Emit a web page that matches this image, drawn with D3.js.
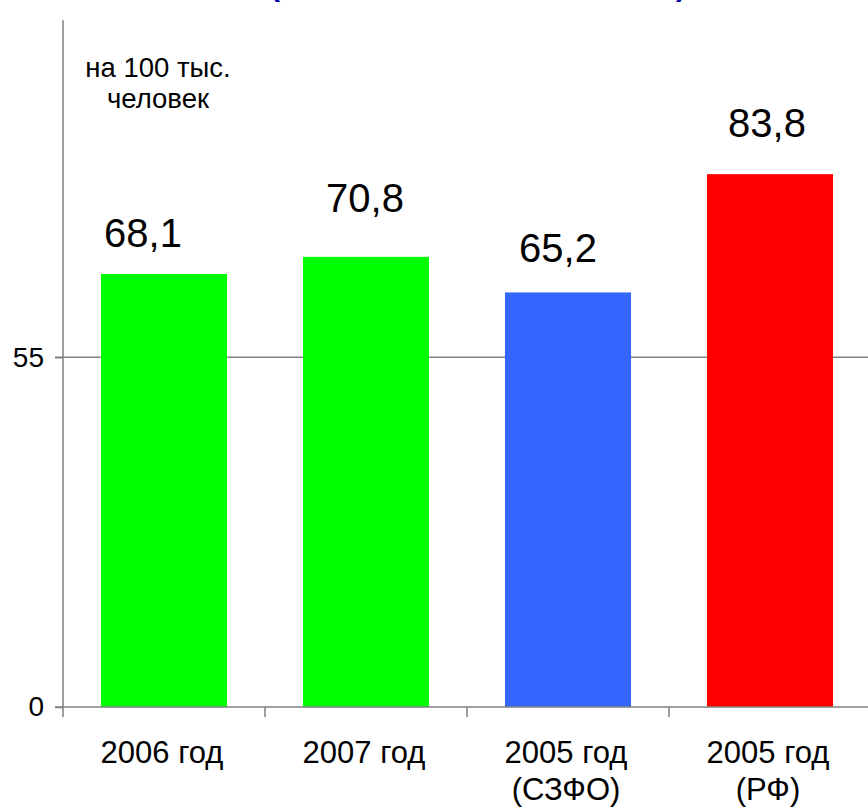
<!DOCTYPE html>
<html><head><meta charset="utf-8">
<script src="https://cdn.jsdelivr.net/npm/d3@7"></script>
<style>
html,body{margin:0;padding:0;background:#fff;}
svg{display:block;font-family:"Liberation Sans",Arial,sans-serif;}
</style></head>
<body>
<svg id="c" width="868" height="811"></svg>
<script>
// Data
const categories = ["2006 год|", "2007 год|", "2005 год|(СЗФО)", "2005 год|(РФ)"];
const values = [68.1, 70.8, 65.2, 83.8];
const valueLabels = ["68,1", "70,8", "65,2", "83,8"];
const yTicks = [0, 55];
const unitLabel = ["на 100 тыс.", "человек"];

// Layout / style (not data)
const barColors = ["#00ff00", "#00ff00", "#3366ff", "#ff0000"];
const labelDx = [-21, -1, -10, -3];
const labelDy = [27, 45, 30, 37];

const svg = d3.select("#c");
const x0 = 63, yZero = 707, yTop = 20.3;
const y = d3.scaleLinear().domain([0, 108]).range([yZero, yTop]);
const x = d3.scaleBand().domain(categories).range([x0, 871]).paddingInner(0.376).paddingOuter(0.188);

const axisColor = "#808080";

// partially visible title parentheses (title itself lies above the picture's top edge)
svg.append("text").attr("x", 270).attr("y", -4).attr("font-size", 30).attr("font-weight", "bold")
  .attr("fill", "#0000b0").text("(");
svg.append("text").attr("x", 676).attr("y", -4).attr("font-size", 30).attr("font-weight", "bold")
  .attr("fill", "#0000b0").text(")");

// gridline at 55
svg.selectAll(".grid").data(yTicks.filter(d => d > 0)).enter().append("line")
  .attr("x1", 55).attr("x2", 868).attr("y1", d => y(d)).attr("y2", d => y(d))
  .attr("stroke", axisColor).attr("stroke-width", 1.5);

// bars
svg.selectAll(".bar").data(values).enter().append("rect")
  .attr("x", (d, i) => x(categories[i]))
  .attr("width", x.bandwidth())
  .attr("y", d => y(d))
  .attr("height", d => y(0) - y(d))
  .attr("fill", (d, i) => barColors[i]);

// y axis
const yAxis = d3.axisLeft(y).tickValues(yTicks).tickSize(8).tickPadding(11).tickFormat(d3.format("d"));
const gy = svg.append("g").attr("transform", `translate(${x0},0)`).call(yAxis);
gy.select(".domain").remove();
gy.selectAll(".tick line").attr("stroke", axisColor).attr("stroke-width", 1.5);
gy.selectAll(".tick text").attr("font-size", 28).attr("fill", "#000")
  .attr("font-family", '"Liberation Sans",Arial,sans-serif');
svg.append("line").attr("x1", x0).attr("x2", x0).attr("y1", yTop).attr("y2", yZero + 10)
  .attr("stroke", axisColor).attr("stroke-width", 1.5);

// x axis
svg.append("line").attr("x1", 55).attr("x2", 868).attr("y1", yZero).attr("y2", yZero)
  .attr("stroke", axisColor).attr("stroke-width", 1.5);
const bounds = categories.map(c => x(c) - x.step() * x.paddingInner() / 2).slice(1);
svg.selectAll(".xt").data(bounds).enter().append("line")
  .attr("x1", d => d).attr("x2", d => d).attr("y1", yZero).attr("y2", yZero + 10)
  .attr("stroke", axisColor).attr("stroke-width", 1.5);

// x labels
categories.forEach((c, i) => {
  const cx = x(c) + x.bandwidth() / 2 - 2;
  const lines = c.split("|").filter(s => s.length);
  const t = svg.append("text").attr("text-anchor", "middle").attr("font-size", 31).attr("fill", "#000");
  lines.forEach((l, j) => {
    t.append("tspan").attr("x", cx).attr("y", 763 + j * 37).text(l);
  });
});

// value labels
svg.selectAll(".vl").data(values).enter().append("text")
  .attr("x", (d, i) => x(categories[i]) + x.bandwidth() / 2 + labelDx[i])
  .attr("y", (d, i) => y(d) - labelDy[i])
  .attr("text-anchor", "middle").attr("font-size", 40).attr("fill", "#000")
  .text((d, i) => valueLabels[i]);

// unit label
const ut = svg.append("text").attr("text-anchor", "middle").attr("font-size", 27.5).attr("fill", "#000");
unitLabel.forEach((l, j) => {
  ut.append("tspan").attr("x", 158).attr("y", 77 + j * 31).text(l);
});
</script>
</body></html>
